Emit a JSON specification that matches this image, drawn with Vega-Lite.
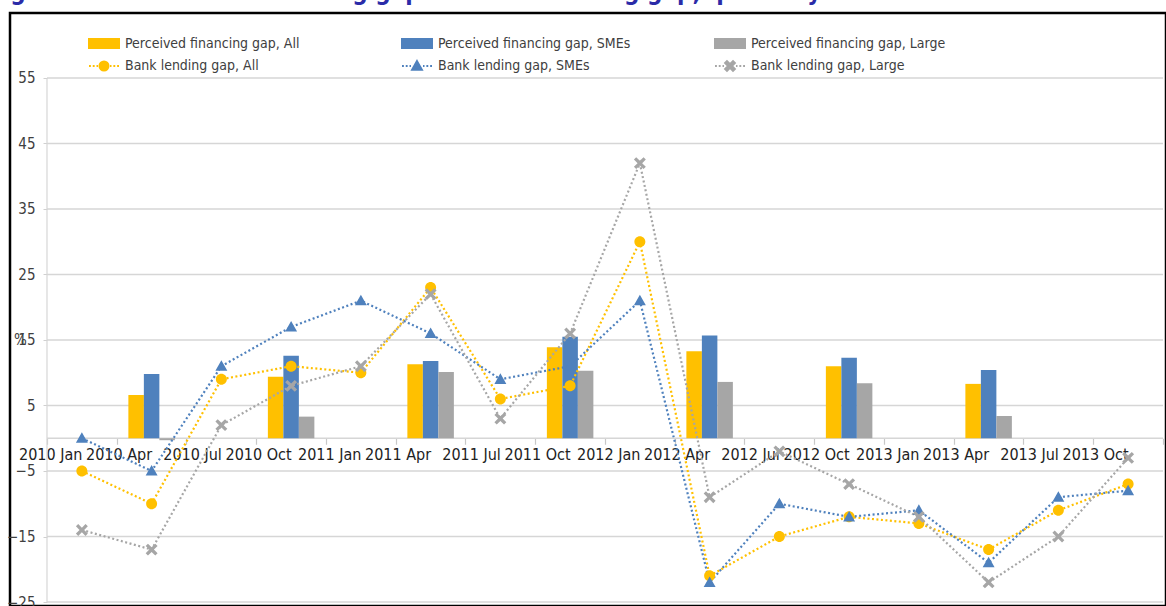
{
  "$schema": "https://vega.github.io/schema/vega-lite/v6.json",
  "width": 1156,
  "height": 593,
  "autosize": {"type": "none"},
  "padding": {"left": 10, "top": 13, "right": 0, "bottom": 0},
  "background": "white",
  "title": {
    "text": "Figure 2.5. Perceived financing gap and bank lending gap, quarterly",
    "anchor": "start",
    "frame": "group",
    "orient": "top",
    "offset": 0,
    "dx": -22,
    "dy": 11,
    "baseline": "alphabetic",
    "fontSize": 24,
    "fontWeight": "bold",
    "color": "#2B2BA8",
    "font": "Liberation Sans Narrow, DejaVu Sans Condensed, sans-serif"
  },
  "config": {
    "view": {"stroke": "#000000", "strokeWidth": 2.5},
    "font": "Liberation Sans Narrow, DejaVu Sans Condensed, sans-serif"
  },
  "datasets": {
    "grid": [
      {"g": 55}, {"g": 45}, {"g": 35}, {"g": 25}, {"g": 15}, {"g": 5}, {"g": 0}, {"g": -5}, {"g": -15}, {"g": -25}
    ],
    "bars": [
      {"q": "2010 Apr", "series": "Perceived financing gap, All", "v": 6.6},
      {"q": "2010 Apr", "series": "Perceived financing gap, SMEs", "v": 9.8},
      {"q": "2010 Apr", "series": "Perceived financing gap, Large", "v": -0.3},
      {"q": "2010 Oct", "series": "Perceived financing gap, All", "v": 9.4},
      {"q": "2010 Oct", "series": "Perceived financing gap, SMEs", "v": 12.6},
      {"q": "2010 Oct", "series": "Perceived financing gap, Large", "v": 3.3},
      {"q": "2011 Apr", "series": "Perceived financing gap, All", "v": 11.3},
      {"q": "2011 Apr", "series": "Perceived financing gap, SMEs", "v": 11.8},
      {"q": "2011 Apr", "series": "Perceived financing gap, Large", "v": 10.1},
      {"q": "2011 Oct", "series": "Perceived financing gap, All", "v": 13.9},
      {"q": "2011 Oct", "series": "Perceived financing gap, SMEs", "v": 15.5},
      {"q": "2011 Oct", "series": "Perceived financing gap, Large", "v": 10.3},
      {"q": "2012 Apr", "series": "Perceived financing gap, All", "v": 13.3},
      {"q": "2012 Apr", "series": "Perceived financing gap, SMEs", "v": 15.7},
      {"q": "2012 Apr", "series": "Perceived financing gap, Large", "v": 8.6},
      {"q": "2012 Oct", "series": "Perceived financing gap, All", "v": 11.0},
      {"q": "2012 Oct", "series": "Perceived financing gap, SMEs", "v": 12.3},
      {"q": "2012 Oct", "series": "Perceived financing gap, Large", "v": 8.4},
      {"q": "2013 Apr", "series": "Perceived financing gap, All", "v": 8.3},
      {"q": "2013 Apr", "series": "Perceived financing gap, SMEs", "v": 10.4},
      {"q": "2013 Apr", "series": "Perceived financing gap, Large", "v": 3.4}
    ],
    "lines": [
      {"q": "2010 Jan", "series": "Bank lending gap, All", "v": -5},
      {"q": "2010 Apr", "series": "Bank lending gap, All", "v": -10},
      {"q": "2010 Jul", "series": "Bank lending gap, All", "v": 9},
      {"q": "2010 Oct", "series": "Bank lending gap, All", "v": 11},
      {"q": "2011 Jan", "series": "Bank lending gap, All", "v": 10},
      {"q": "2011 Apr", "series": "Bank lending gap, All", "v": 23},
      {"q": "2011 Jul", "series": "Bank lending gap, All", "v": 6},
      {"q": "2011 Oct", "series": "Bank lending gap, All", "v": 8},
      {"q": "2012 Jan", "series": "Bank lending gap, All", "v": 30},
      {"q": "2012 Apr", "series": "Bank lending gap, All", "v": -21},
      {"q": "2012 Jul", "series": "Bank lending gap, All", "v": -15},
      {"q": "2012 Oct", "series": "Bank lending gap, All", "v": -12},
      {"q": "2013 Jan", "series": "Bank lending gap, All", "v": -13},
      {"q": "2013 Apr", "series": "Bank lending gap, All", "v": -17},
      {"q": "2013 Jul", "series": "Bank lending gap, All", "v": -11},
      {"q": "2013 Oct", "series": "Bank lending gap, All", "v": -7},
      {"q": "2010 Jan", "series": "Bank lending gap, SMEs", "v": 0},
      {"q": "2010 Apr", "series": "Bank lending gap, SMEs", "v": -5},
      {"q": "2010 Jul", "series": "Bank lending gap, SMEs", "v": 11},
      {"q": "2010 Oct", "series": "Bank lending gap, SMEs", "v": 17},
      {"q": "2011 Jan", "series": "Bank lending gap, SMEs", "v": 21},
      {"q": "2011 Apr", "series": "Bank lending gap, SMEs", "v": 16},
      {"q": "2011 Jul", "series": "Bank lending gap, SMEs", "v": 9},
      {"q": "2011 Oct", "series": "Bank lending gap, SMEs", "v": 11},
      {"q": "2012 Jan", "series": "Bank lending gap, SMEs", "v": 21},
      {"q": "2012 Apr", "series": "Bank lending gap, SMEs", "v": -22},
      {"q": "2012 Jul", "series": "Bank lending gap, SMEs", "v": -10},
      {"q": "2012 Oct", "series": "Bank lending gap, SMEs", "v": -12},
      {"q": "2013 Jan", "series": "Bank lending gap, SMEs", "v": -11},
      {"q": "2013 Apr", "series": "Bank lending gap, SMEs", "v": -19},
      {"q": "2013 Jul", "series": "Bank lending gap, SMEs", "v": -9},
      {"q": "2013 Oct", "series": "Bank lending gap, SMEs", "v": -8},
      {"q": "2010 Jan", "series": "Bank lending gap, Large", "v": -14},
      {"q": "2010 Apr", "series": "Bank lending gap, Large", "v": -17},
      {"q": "2010 Jul", "series": "Bank lending gap, Large", "v": 2},
      {"q": "2010 Oct", "series": "Bank lending gap, Large", "v": 8},
      {"q": "2011 Jan", "series": "Bank lending gap, Large", "v": 11},
      {"q": "2011 Apr", "series": "Bank lending gap, Large", "v": 22},
      {"q": "2011 Jul", "series": "Bank lending gap, Large", "v": 3},
      {"q": "2011 Oct", "series": "Bank lending gap, Large", "v": 16},
      {"q": "2012 Jan", "series": "Bank lending gap, Large", "v": 42},
      {"q": "2012 Apr", "series": "Bank lending gap, Large", "v": -9},
      {"q": "2012 Jul", "series": "Bank lending gap, Large", "v": -2},
      {"q": "2012 Oct", "series": "Bank lending gap, Large", "v": -7},
      {"q": "2013 Jan", "series": "Bank lending gap, Large", "v": -12},
      {"q": "2013 Apr", "series": "Bank lending gap, Large", "v": -22},
      {"q": "2013 Jul", "series": "Bank lending gap, Large", "v": -15},
      {"q": "2013 Oct", "series": "Bank lending gap, Large", "v": -3}
    ]
  },
  "layer": [
    {
      "data": {"name": "grid"},
      "mark": {"type": "rule", "color": "#D6D6D6", "strokeWidth": 1.5},
      "encoding": {
        "y": {"field": "g", "type": "quantitative"},
        "x": {"datum": "2010 Jan", "type": "ordinal", "bandPosition": 0},
        "x2": {"datum": "2013 Oct", "bandPosition": 1}
      }
    },
    {
      "data": {"values": [{}]},
      "mark": {"type": "rule", "color": "#D6D6D6", "strokeWidth": 1.2},
      "encoding": {
        "x": {"datum": "2010 Jan", "type": "ordinal", "bandPosition": 0},
        "y": {"datum": 55, "type": "quantitative"},
        "y2": {"datum": -25}
      }
    },
    {
      "data": {"name": "bars"},
      "mark": {"type": "bar"},
      "encoding": {
        "x": {
          "field": "q",
          "type": "ordinal",
          "scale": {
            "type": "band",
            "domain": ["2010 Jan", "2010 Apr", "2010 Jul", "2010 Oct", "2011 Jan", "2011 Apr", "2011 Jul", "2011 Oct", "2012 Jan", "2012 Apr", "2012 Jul", "2012 Oct", "2013 Jan", "2013 Apr", "2013 Jul", "2013 Oct"],
            "paddingInner": 0,
            "paddingOuter": 0.2867,
            "align": 0.925
          },
          "axis": {
            "title": null,
            "offset": -167.75,
            "domain": false,
            "tickBand": "extent",
            "tickSize": 6,
            "tickColor": "#C8C8C8",
            "tickWidth": 1.2,
            "labelAngle": 0,
            "labelOverlap": false,
            "labelFontSize": 16,
            "labelColor": "#222222",
            "labelPadding": 10,
            "grid": false
          }
        },
        "xOffset": {
          "field": "series",
          "type": "nominal",
          "scale": {
            "domain": ["Perceived financing gap, All", "Perceived financing gap, SMEs", "Perceived financing gap, Large"],
            "paddingInner": 0,
            "paddingOuter": 0.75
          }
        },
        "y": {
          "field": "v",
          "type": "quantitative",
          "scale": {"domain": [-25.61, 64.92], "nice": false, "zero": false},
          "axis": {
            "title": "%",
            "titleAngle": 0,
            "titleX": -27,
            "titleY": 326,
            "titleAlign": "center",
            "titleBaseline": "middle",
            "titleFontSize": 15,
            "titleFontWeight": "normal",
            "titleColor": "#404040",
            "values": [-25, -15, -5, 5, 15, 25, 35, 45, 55],
            "grid": false,
            "domain": false,
            "offset": -37,
            "tickSize": 4,
            "tickColor": "#D0D0D0",
            "labelPadding": 8,
            "labelFontSize": 15,
            "labelColor": "#404040"
          }
        },
        "color": {
          "field": "series",
          "type": "nominal",
          "scale": {
            "domain": ["Perceived financing gap, All", "Perceived financing gap, SMEs", "Perceived financing gap, Large", "Bank lending gap, All", "Bank lending gap, SMEs", "Bank lending gap, Large"],
            "range": ["#FFC000", "#4F81BD", "#A6A6A6", "#FFC000", "#4F81BD", "#A6A6A6"]
          },
          "legend": {
            "title": null,
            "orient": "none",
            "direction": "horizontal",
            "legendX": 85.5,
            "legendY": 21.5,
            "columns": 3,
            "gridAlign": "all",
            "columnPadding": 78,
            "rowPadding": 4,
            "padding": 0,
            "symbolSize": 225,
            "symbolStrokeWidth": 2,
            "symbolOpacity": 1,
            "labelOffset": 12.5,
            "labelFontSize": 14,
            "labelColor": "#404040",
            "labelLimit": 400,
            "encode": {
              "symbols": {
                "update": {
                  "fill": {"scale": "color", "field": "value"},
                  "stroke": {"scale": "color", "field": "value"}
                }
              }
            }
          }
        }
      }
    },
    {
      "data": {"name": "lines"},
      "mark": {"type": "line", "strokeDash": [2, 2.5], "strokeWidth": 2.2},
      "encoding": {
        "x": {"field": "q", "type": "ordinal"},
        "y": {"field": "v", "type": "quantitative"},
        "color": {"field": "series", "type": "nominal"}
      }
    },
    {
      "data": {"name": "lines"},
      "mark": {"type": "point", "filled": true, "size": 336, "opacity": 1},
      "encoding": {
        "x": {"field": "q", "type": "ordinal"},
        "y": {"field": "v", "type": "quantitative"},
        "color": {"field": "series", "type": "nominal"},
        "shape": {
          "field": "series",
          "type": "nominal",
          "scale": {
            "domain": ["Perceived financing gap, All", "Perceived financing gap, SMEs", "Perceived financing gap, Large", "Bank lending gap, All", "Bank lending gap, SMEs", "Bank lending gap, Large"],
            "range": [
              "M-2,-0.6H2V0.6H-2Z",
              "M-2,-0.6H2V0.6H-2Z",
              "M-2,-0.6H2V0.6H-2Z",
              "M-2,0H-1.75M-1.5,0H-1.25M-1,0H-0.8M0.8,0H1M1.25,0H1.5M1.75,0H2M0.6,0A0.6,0.6,0,1,1,-0.6,0A0.6,0.6,0,1,1,0.6,0Z",
              "M-2,0H-1.75M-1.5,0H-1.25M-1,0H-0.8M0.8,0H1M1.25,0H1.5M1.75,0H2M0,-0.65L0.65,0.5L-0.65,0.5Z",
              "M-2,0H-1.75M-1.5,0H-1.25M-1,0H-0.8M0.8,0H1M1.25,0H1.5M1.75,0H2M-0.65,-0.4L-0.4,-0.65L0,-0.25L0.4,-0.65L0.65,-0.4L0.25,0L0.65,0.4L0.4,0.65L0,0.25L-0.4,0.65L-0.65,0.4L-0.25,0Z"
            ]
          },
          "legend": {
            "title": null,
            "orient": "none",
            "direction": "horizontal",
            "legendX": 85.5,
            "legendY": 21.5,
            "columns": 3,
            "gridAlign": "all",
            "columnPadding": 78,
            "rowPadding": 4,
            "padding": 0,
            "symbolSize": 225,
            "symbolStrokeWidth": 2,
            "symbolOpacity": 1,
            "labelOffset": 12.5,
            "labelFontSize": 14,
            "labelColor": "#404040",
            "labelLimit": 400
          }
        }
      }
    }
  ]
}
